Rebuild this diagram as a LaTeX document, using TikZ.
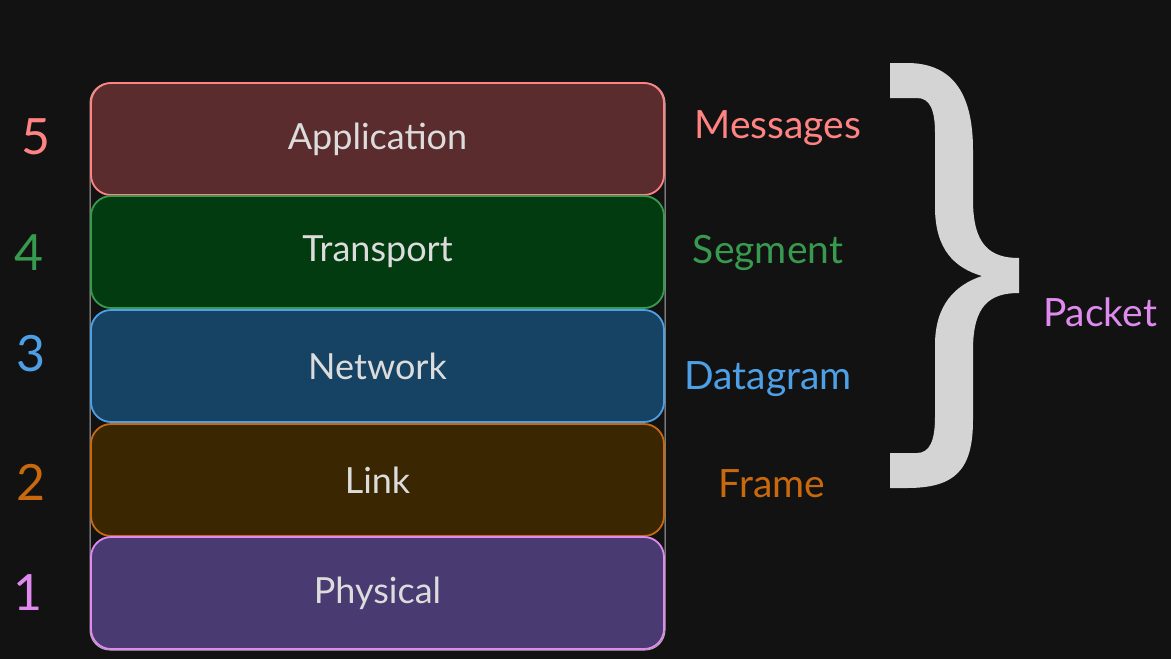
\documentclass[tikz,border=0pt]{standalone}
\usepackage{fontspec}
\setmainfont{Lato}
\definecolor{bg}{HTML}{121212}
\definecolor{txt}{HTML}{DCDCDC}
\definecolor{appfill}{HTML}{5B2C2E}
\definecolor{appline}{HTML}{FF8383}
\definecolor{trfill}{HTML}{033B11}
\definecolor{trline}{HTML}{379A4E}
\definecolor{nwfill}{HTML}{164263}
\definecolor{nwline}{HTML}{4EA0E6}
\definecolor{lkfill}{HTML}{3A2600}
\definecolor{lkline}{HTML}{C8690E}
\definecolor{phfill}{HTML}{4A3A72}
\definecolor{phline}{HTML}{E08AF0}
\definecolor{bracecol}{HTML}{D4D4D4}
\tikzset{
  layer/.style={rounded corners=20pt, minimum width=573pt, minimum height=112pt,
    inner sep=0pt, outer sep=0pt, line width=1.8pt, text=txt,
    font=\fontsize{36}{36}\selectfont},
  num/.style={font=\fontsize{50}{50}\selectfont, inner sep=0pt},
  lbl/.style={font=\fontsize{39}{39}\selectfont, inner sep=0pt}
}
\begin{document}
\begin{tikzpicture}[x=1pt,y=-1pt]
\fill[bg] (0,0) rectangle (1171,659);
\useasboundingbox (0,0) rectangle (1171,659);
% outer frame
\draw[color=black!30!white, line width=1pt, rounded corners=20pt] (90,83) rectangle (665,650);
% layers
\node[layer, draw=appline, fill=appfill] (app) at (377.5,139) {Application};
\node[layer, draw=trline, fill=trfill] (tr) at (377.5,252) {Transport};
\node[layer, draw=nwline, fill=nwfill] (nw) at (377.5,366) {Network};
\node[layer, draw=lkline, fill=lkfill] (lk) at (377.5,480) {Link};
\node[layer, draw=phline, fill=phfill] (ph) at (377.5,593) {Physical};
% numbers
\node[num, text=appline] (n5) at (36,137) {5};
\node[num, text=trline] (n4) at (29,253) {4};
\node[num, text=nwline] (n3) at (31,354) {3};
\node[num, text=lkline] (n2) at (31,482) {2};
\node[num, text=phline] (n1) at (28,593) {1};
% PDU labels
\node[lbl, text=appline] (msg) at (778,128) {Messages};
\node[lbl, text=trline] (seg) at (768,253) {Segment};
\node[lbl, text=nwline] (dg) at (768,379) {Datagram};
\node[lbl, text=lkline] (fr) at (772,484) {Frame};
\node[lbl, text=phline] (pk) at (1100,312) {Packet};
% brace
\fill[bracecol] (890,63) -- (907,63) .. controls (950,63) and (973,90) .. (973,150)
  -- (973,200) .. controls (973,245) and (990,258) .. (1019,258)
  -- (1019,293) .. controls (990,293) and (973,305) .. (973,350)
  -- (973,420) .. controls (973,470) and (955,488) .. (907,488)
  -- (890,488) -- (890,453) -- (917,453) .. controls (930,453) and (935,440) .. (935,417)
  -- (935,345) .. controls (935,305) and (955,285) .. (982,276)
  .. controls (955,268) and (935,250) .. (935,207)
  -- (935,133) .. controls (935,110) and (930,98) .. (917,98)
  -- (890,98) -- cycle;
\end{tikzpicture}
\end{document}
